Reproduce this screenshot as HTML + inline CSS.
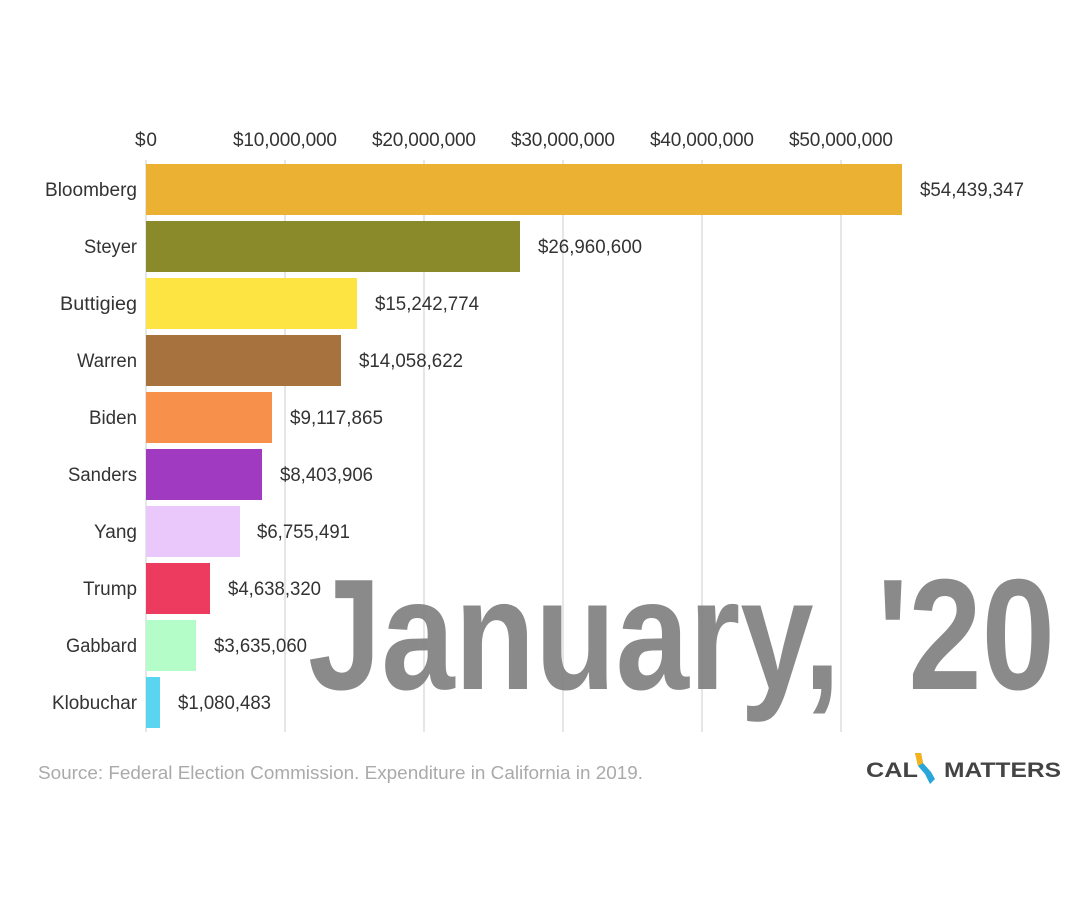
<!DOCTYPE html>
<html><head><meta charset="utf-8"><style>
html,body{margin:0;padding:0;background:#fff;}
svg{display:block;font-family:"Liberation Sans",sans-serif;}
</style></head><body>
<svg width="1081" height="915" viewBox="0 0 1081 915" xmlns="http://www.w3.org/2000/svg">
<rect width="1081" height="915" fill="#fff"/>
<g stroke="#ddd" stroke-width="1.5">
<line x1="146" y1="160" x2="146" y2="732"/>
<line x1="285" y1="160" x2="285" y2="732"/>
<line x1="424" y1="160" x2="424" y2="732"/>
<line x1="563" y1="160" x2="563" y2="732"/>
<line x1="702" y1="160" x2="702" y2="732"/>
<line x1="841" y1="160" x2="841" y2="732"/>
</g>
<g font-size="19" fill="#333" text-anchor="middle">
<text x="146" y="146" textLength="22">$0</text>
<text x="285" y="146" textLength="104">$10,000,000</text>
<text x="424" y="146" textLength="104">$20,000,000</text>
<text x="563" y="146" textLength="104">$30,000,000</text>
<text x="702" y="146" textLength="104">$40,000,000</text>
<text x="841" y="146" textLength="104">$50,000,000</text>
</g>
<g>
<rect x="146" y="164" width="756" height="51" fill="#ebb133"/>
<rect x="146" y="221" width="374" height="51" fill="#8a8a2a"/>
<rect x="146" y="278" width="211" height="51" fill="#fde443"/>
<rect x="146" y="335" width="195" height="51" fill="#a8723e"/>
<rect x="146" y="392" width="126" height="51" fill="#f7904a"/>
<rect x="146" y="449" width="116" height="51" fill="#a03ac0"/>
<rect x="146" y="506" width="94" height="51" fill="#ebc8fb"/>
<rect x="146" y="563" width="64" height="51" fill="#ec3b5e"/>
<rect x="146" y="620" width="50" height="51" fill="#b4fcc8"/>
<rect x="146" y="677" width="14" height="51" fill="#5bd4f0"/>
</g>
<text x="308" y="689" font-size="158" font-weight="bold" fill="#808080" fill-opacity="0.92" textLength="747" lengthAdjust="spacingAndGlyphs">January, '20</text>
<g font-size="19" fill="#333" text-anchor="end">
<text x="137" y="196" textLength="92" lengthAdjust="spacingAndGlyphs">Bloomberg</text>
<text x="137" y="253" textLength="53" lengthAdjust="spacingAndGlyphs">Steyer</text>
<text x="137" y="310" textLength="77" lengthAdjust="spacingAndGlyphs">Buttigieg</text>
<text x="137" y="367" textLength="60" lengthAdjust="spacingAndGlyphs">Warren</text>
<text x="137" y="424" textLength="48" lengthAdjust="spacingAndGlyphs">Biden</text>
<text x="137" y="481" textLength="69" lengthAdjust="spacingAndGlyphs">Sanders</text>
<text x="137" y="538" textLength="43" lengthAdjust="spacingAndGlyphs">Yang</text>
<text x="137" y="595" textLength="54" lengthAdjust="spacingAndGlyphs">Trump</text>
<text x="137" y="652" textLength="71" lengthAdjust="spacingAndGlyphs">Gabbard</text>
<text x="137" y="709" textLength="85" lengthAdjust="spacingAndGlyphs">Klobuchar</text>
</g>
<g font-size="19" fill="#333">
<text x="920" y="196" textLength="104" lengthAdjust="spacingAndGlyphs">$54,439,347</text>
<text x="538" y="253" textLength="104" lengthAdjust="spacingAndGlyphs">$26,960,600</text>
<text x="375" y="310" textLength="104" lengthAdjust="spacingAndGlyphs">$15,242,774</text>
<text x="359" y="367" textLength="104" lengthAdjust="spacingAndGlyphs">$14,058,622</text>
<text x="290" y="424" textLength="93" lengthAdjust="spacingAndGlyphs">$9,117,865</text>
<text x="280" y="481" textLength="93" lengthAdjust="spacingAndGlyphs">$8,403,906</text>
<text x="257" y="538" textLength="93" lengthAdjust="spacingAndGlyphs">$6,755,491</text>
<text x="228" y="595" textLength="93" lengthAdjust="spacingAndGlyphs">$4,638,320</text>
<text x="214" y="652" textLength="93" lengthAdjust="spacingAndGlyphs">$3,635,060</text>
<text x="178" y="709" textLength="93" lengthAdjust="spacingAndGlyphs">$1,080,483</text>
</g>
<text x="38" y="779" font-size="18" fill="#aaa" textLength="605" lengthAdjust="spacingAndGlyphs">Source: Federal Election Commission. Expenditure in California in 2019.</text>
<g>
<text x="866" y="777" font-size="21" font-weight="bold" fill="#444" textLength="52" lengthAdjust="spacingAndGlyphs">CAL</text>
<polygon points="915,753 921,753 923,763 931,772 935,779 930,784 925,774 918,766" fill="#29a6d9"/>
<polygon points="915,753 921,753 923,763 918,766" fill="#f5b21b"/>
<text x="944" y="777" font-size="21" font-weight="bold" fill="#444" textLength="117" lengthAdjust="spacingAndGlyphs">MATTERS</text>
</g>
</svg>
</body></html>
